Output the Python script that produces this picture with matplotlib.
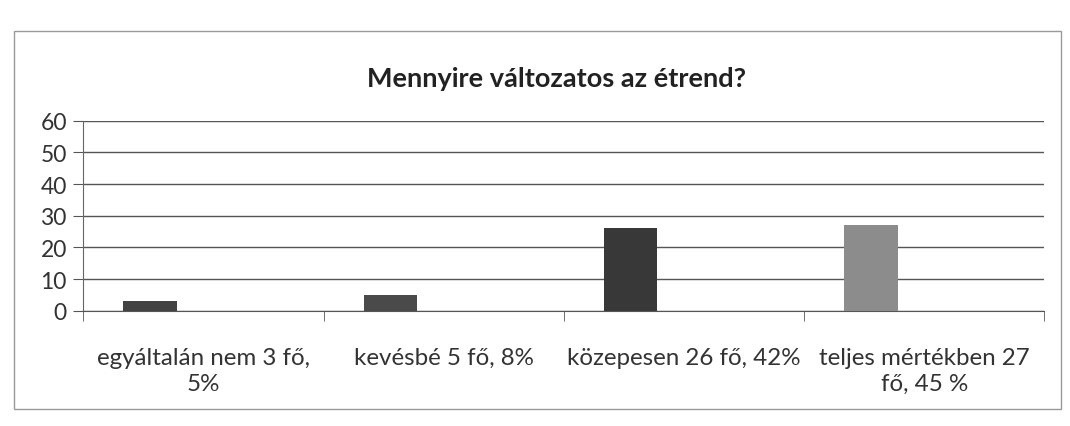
import matplotlib.pyplot as plt
import matplotlib.patches as patches
import numpy as np

plt.rcParams['font.family'] = ['Lato', 'DejaVu Sans']

# data
categories = ['egyáltalán nem 3 fő,\n5%', 'kevésbé 5 fő, 8%',
              'közepesen 26 fő, 42%', 'teljes mértékben 27\nfő, 45 %']
values = [3, 5, 26, 27]
bar_colors = ['#424242', '#4a4a4a', '#383838', '#8c8c8c']
yticks = [0, 10, 20, 30, 40, 50, 60]
title = 'Mennyire változatos az étrend?'

fig = plt.figure(figsize=(10.7, 4.27), dpi=100)
ax = fig.add_axes([0.078, 0.27, 0.898, 0.445])

# excel style: bar is the first slot of a 3-slot cluster, gap width 150%
w = 1 / 4.5
x = np.arange(len(categories))
ax.bar(x - w, values, width=w, color=bar_colors, zorder=3)

ax.set_xlim(-0.5, len(categories) - 0.5)
ax.set_ylim(0, 60)
ax.set_yticks(yticks)
ax.set_yticklabels([str(t) for t in yticks], fontsize=16.5, color='#333333')
ax.yaxis.grid(True, color='#555555', linewidth=1.0, zorder=0)

ax.set_xticks(x)
ax.set_xticklabels(categories, fontsize=17.4, color='#333333', linespacing=1.3)
ax.set_xticks(np.arange(len(categories) + 1) - 0.5, minor=True)
ax.tick_params(axis='x', which='major', length=0, pad=26)
ax.tick_params(axis='x', which='minor', length=7, color='#555555', direction='out')
ax.tick_params(axis='y', length=7, color='#555555', direction='out', pad=5)

for s in ['top', 'right']:
    ax.spines[s].set_visible(False)
ax.spines['left'].set_color('#666666')
ax.spines['bottom'].set_color('#555555')

fig.text(0.52, 0.815, title, ha='center', va='center', fontsize=19.5,
         fontweight='bold', color='#222222')

# chart frame
fig.patches.append(patches.Rectangle((0.013, 0.04), 0.979, 0.885, transform=fig.transFigure,
                                     fill=False, edgecolor='#9a9a9a', linewidth=1.0))

fig.savefig('out.png', dpi=100, facecolor='white')
